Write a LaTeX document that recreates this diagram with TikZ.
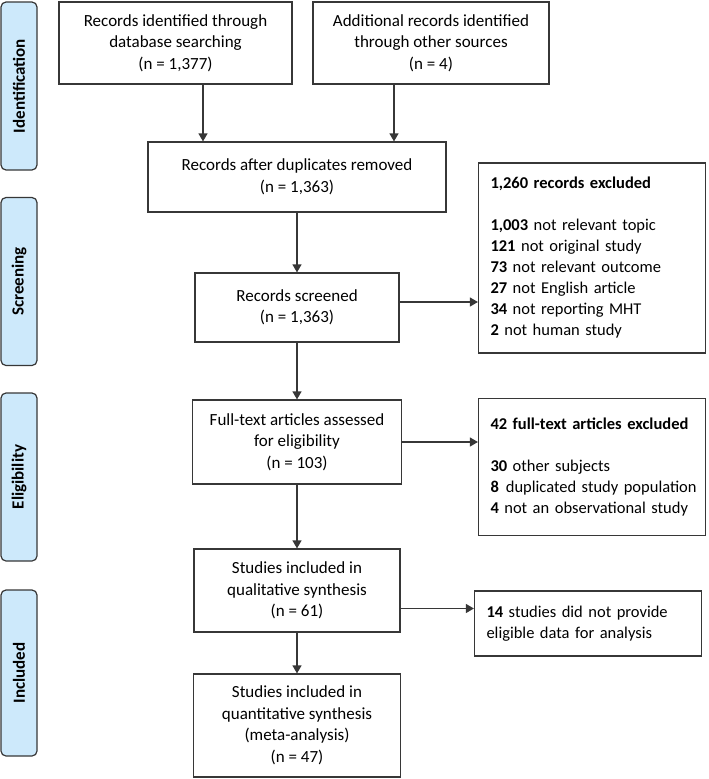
\documentclass[tikz,border=0pt]{standalone}
\usepackage{fontspec}
\setmainfont{Carlito}
\usetikzlibrary{arrows.meta}
\definecolor{boxgray}{RGB}{55,55,55}
\definecolor{phaseblue}{RGB}{205,233,251}

\begin{document}
\begin{tikzpicture}[x=1pt, y=-1pt, >={Triangle[length=8pt, width=9pt]},
   font=\fontsize{17}{21.5}\selectfont,
   block/.style={rectangle, draw=boxgray, line width=1.2pt, align=center, inner sep=0pt},
   excl/.style={block, align=left, text width=203pt, inner xsep=12pt, font=\fontsize{16.5}{21}\selectfont},
   phase/.style={rectangle, rounded corners=5pt, draw=boxgray, fill=phaseblue, line width=1.2pt, rotate=90, minimum width=168pt, minimum height=36pt, font=\fontsize{17}{21.5}\selectfont\bfseries},
   line/.style={draw=boxgray, line width=1.2pt}]
   \useasboundingbox (0,0) rectangle (709,779);
   % phases
   \node[phase] (ident) at (19,86) {Identification};
   \node[phase] (scr) at (19,281.5) {Screening};
   \node[phase] (elig) at (19,477) {Eligibility};
   \node[phase, minimum width=166pt] (incl) at (19,673) {Included};
   % main column
   \node[block, minimum width=233pt, minimum height=82pt] (db) at (175.5,43) {Records identified through\\database searching\\(n = 1,377)};
   \node[block, minimum width=236pt, minimum height=82pt] (other) at (431,43) {Additional records identified\\through other sources\\(n = 4)};
   \node[block, minimum width=298pt, minimum height=70pt] (dup) at (297,177) {Records after duplicates removed\\(n = 1,363)};
   \node[block, minimum width=204pt, minimum height=69pt] (screen) at (297,307.5) {Records screened\\(n = 1,363)};
   \node[block, minimum width=209pt, minimum height=84pt] (full) at (297,442) {Full-text articles assessed\\for eligibility\\(n = 103)};
   \node[block, minimum width=206pt, minimum height=83pt] (qual) at (297,590.5) {Studies included in\\qualitative synthesis\\(n = 61)};
   \node[block, minimum width=207pt, minimum height=103pt] (quant) at (297,725.5) {Studies included in\\quantitative synthesis\\(meta-analysis)\\(n = 47)};
   % excluded
   \node[excl, minimum height=190pt] (exscreen) at (592,258) {\textbf{1,260 records excluded}\\[21pt]
      \textbf{1,003} not relevant topic\\
      \textbf{121} not original study\\
      \textbf{73} not relevant outcome\\
      \textbf{27} not English article\\
      \textbf{34} not reporting MHT\\
      \textbf{2} not human study};
   \node[excl, minimum height=137pt] (exfull) at (592,467) {\mbox{\textbf{42 full-text articles excluded}}\\[21pt]
      \textbf{30} other subjects\\
      \mbox{\textbf{8}\hspace{7pt}duplicated study population}\\
      \mbox{\textbf{4} not an observational study}};
   \node[excl, minimum height=65pt] (exqual) at (588,623.5) {\textbf{14} studies did not provide\\eligible data for analysis};
   % arrows
   \draw[line, ->] ([xshift=27.5pt]db.south) -- ([xshift=27.5pt]db.south |- dup.north);
   \draw[line, ->] ([xshift=-37pt]other.south) -- ([xshift=-37pt]other.south |- dup.north);
   \draw[line, ->] (dup.south) -- (screen.north);
   \draw[line, ->] ([yshift=5.5pt]screen.east) -- ([yshift=5.5pt]screen.east -| exscreen.west);
   \draw[line, ->] (screen.south) -- (full.north);
   \draw[line, ->] (full.east) -- (full.east -| exfull.west);
   \draw[line, ->] (full.south) -- (qual.north);
   \draw[line, ->] ([yshift=-18pt]qual.east) -- ([yshift=-18pt]qual.east -| exqual.west);
   \draw[line, ->] (qual.south) -- (quant.north);
\end{tikzpicture}
\end{document}
